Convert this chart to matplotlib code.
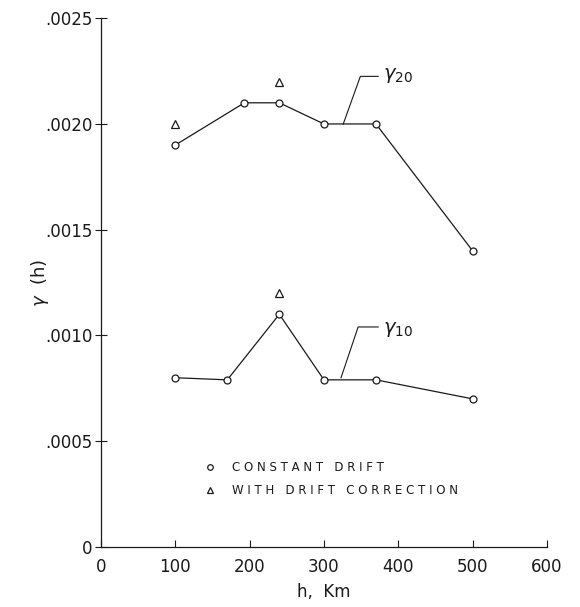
import matplotlib.pyplot as plt
from matplotlib.ticker import FixedLocator, FixedFormatter

# Data
h20 = [100, 193, 240, 300, 370, 500]
g20 = [0.0019, 0.0021, 0.0021, 0.0020, 0.0020, 0.0014]
h20_corr = [100, 240]
g20_corr = [0.0020, 0.0022]

h10 = [100, 170, 240, 300, 370, 500]
g10 = [0.0008, 0.00079, 0.0011, 0.00079, 0.00079, 0.0007]
h10_corr = [240]
g10_corr = [0.0012]

xticks = [0, 100, 200, 300, 400, 500, 600]
yticks = [0, 0.0005, 0.0010, 0.0015, 0.0020, 0.0025]
ylabels = ['0', '.0005', '.0010', '.0015', '.0020', '.0025']

ink = '#1a1a1a'
fig = plt.figure(figsize=(5.8, 6.07), dpi=100)
ax = fig.add_axes([0.174, 0.099, 0.769, 0.871])

ax.plot(h20, g20, '-o', color=ink, lw=0.9, ms=5, mfc='white', mew=0.9)
ax.plot(h20_corr, g20_corr, '^', color=ink, ms=6, mfc='white', mew=0.9, ls='none')
ax.plot(h10, g10, '-o', color=ink, lw=0.9, ms=5, mfc='white', mew=0.9)
ax.plot(h10_corr, g10_corr, '^', color=ink, ms=6, mfc='white', mew=0.9, ls='none')

# leader lines to curve labels
ax.plot([326, 349, 373], [0.00200, 0.002225, 0.002225], color=ink, lw=0.8)
ax.text(380, 0.00223, r'$\gamma_{20}$', fontsize=14, va='center', ha='left', color=ink)
ax.plot([323, 346, 373], [0.00080, 0.00104, 0.00104], color=ink, lw=0.8)
ax.text(380, 0.00103, r'$\gamma_{10}$', fontsize=14, va='center', ha='left', color=ink)

# legend drawn as text
ax.plot([147], [0.000376], 'o', color=ink, ms=4, mfc='white', mew=0.9)
ax.text(176, 0.000376, 'C O N S T A N T   D R I F T', fontsize=8.5, va='center', color=ink)
ax.plot([147], [0.000268], '^', color=ink, ms=5, mfc='white', mew=0.9)
ax.text(176, 0.000268, 'W I T H   D R I F T   C O R R E C T I O N', fontsize=8.5, va='center', color=ink)

ax.set_xlim(0, 600)
ax.set_ylim(0, 0.0025)
ax.xaxis.set_major_locator(FixedLocator(xticks))
ax.yaxis.set_major_locator(FixedLocator(yticks))
ax.yaxis.set_major_formatter(FixedFormatter(ylabels))
ax.tick_params(axis='x', direction='in', length=5, width=0.8, labelsize=12, pad=8, colors=ink)
ax.tick_params(axis='y', direction='inout', length=8, width=0.8, labelsize=12, pad=2, colors=ink)
for s in ['top', 'right']:
    ax.spines[s].set_visible(False)
for s in ['left', 'bottom']:
    ax.spines[s].set_linewidth(0.9)
    ax.spines[s].set_color(ink)

ax.set_xlabel('h,  Km', fontsize=12, labelpad=5, color=ink)
ax.set_ylabel(r'$\gamma$  (h)', fontsize=13, labelpad=-4, color=ink)

fig.savefig('out.png', dpi=100, facecolor='white')
